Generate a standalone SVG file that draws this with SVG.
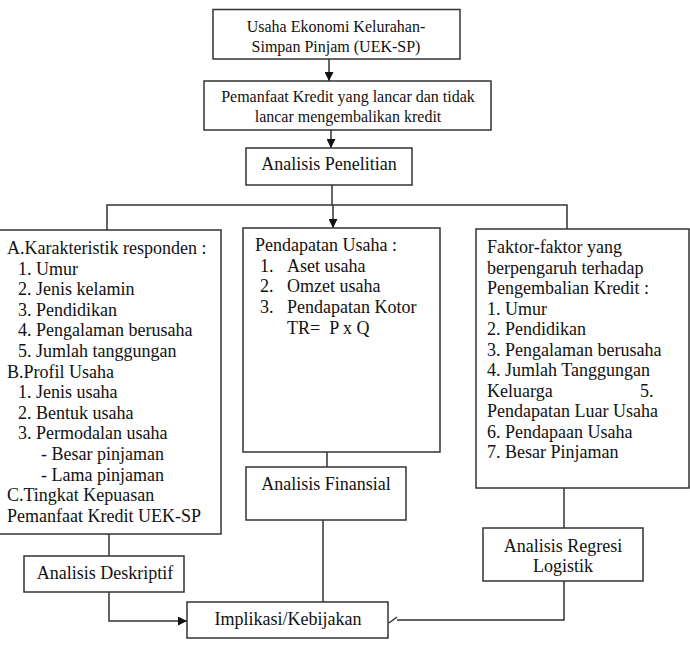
<svg xmlns="http://www.w3.org/2000/svg" width="690" height="652" viewBox="0 0 690 652">
  <style>
    .box { fill: #ffffff; stroke: #333333; stroke-width: 1.5; }
    .ln { fill: none; stroke: #333333; stroke-width: 1.5; }
    text { font-family: "Liberation Serif", "Times New Roman", serif; fill: #111111; }
    .s16 { font-size: 16px; }
    .s18 { font-size: 18px; }
    .mid { text-anchor: middle; }
  </style>
  <defs>
    <marker id="arrow" viewBox="0 0 10 10" refX="10" refY="5" markerWidth="9" markerHeight="9" markerUnits="userSpaceOnUse" orient="auto">
      <path d="M0,0 L10,5 L0,10 Z" fill="#111111"/>
    </marker>
  </defs>

  <rect width="690" height="652" fill="#ffffff"/>

  <!-- connectors -->
  <g id="connectors">
    <line class="ln" x1="329" y1="59" x2="329" y2="81" marker-end="url(#arrow)"/>
    <line class="ln" x1="331" y1="130" x2="331" y2="148" marker-end="url(#arrow)"/>
    <polyline class="ln" points="332,185 332,205"/>
    <polyline class="ln" points="107,230 107,205 567,205 567,229"/>
    <line class="ln" x1="333" y1="205" x2="333" y2="228" marker-end="url(#arrow)"/>
    <line class="ln" x1="109" y1="534" x2="109" y2="556"/>
    <line class="ln" x1="327" y1="452" x2="327" y2="467"/>
    <line class="ln" x1="564" y1="488" x2="564" y2="528"/>
    <polyline class="ln" points="109,592 109,621 187,621" marker-end="url(#arrow)"/>
    <line class="ln" x1="323" y1="520" x2="323" y2="602"/>
    <polyline class="ln" points="564,581 564,620 397,620"/>
    <line class="ln" x1="389" y1="623" x2="397" y2="617"/>
  </g>

  <g id="node-uek">
    <rect class="box" x="213" y="9.5" width="247" height="49.5"/>
    <text class="s16 mid" x="336" y="32">Usaha Ekonomi Kelurahan-</text>
    <text class="s16 mid" x="336" y="52">Simpan Pinjam (UEK-SP)</text>
  </g>

  <g id="node-pemanfaat">
    <rect class="box" x="204" y="81" width="287" height="49"/>
    <text class="s16 mid" x="348" y="102">Pemanfaat Kredit yang lancar dan tidak</text>
    <text class="s16 mid" x="348" y="122">lancar mengembalikan kredit</text>
  </g>

  <g id="node-analisis-penelitian">
    <rect class="box" x="246" y="148" width="166" height="37"/>
    <text class="s18 mid" x="329" y="170">Analisis Penelitian</text>
  </g>

  <g id="node-karakteristik">
    <rect class="box" x="-1" y="230" width="222" height="304"/>
    <text class="s18" xml:space="preserve">
      <tspan x="7" y="254">A.Karakteristik responden :</tspan>
      <tspan x="18" y="274.6">1. Umur</tspan>
      <tspan x="18" y="295.2">2. Jenis kelamin</tspan>
      <tspan x="18" y="315.8">3. Pendidikan</tspan>
      <tspan x="18" y="336.4">4. Pengalaman berusaha</tspan>
      <tspan x="18" y="357">5. Jumlah tanggungan</tspan>
      <tspan x="7" y="377.6">B.Profil Usaha</tspan>
      <tspan x="18" y="398.2">1. Jenis usaha</tspan>
      <tspan x="18" y="418.8">2. Bentuk usaha</tspan>
      <tspan x="18" y="439.4">3. Permodalan usaha</tspan>
      <tspan x="41" y="460">- Besar pinjaman</tspan>
      <tspan x="41" y="480.6">- Lama pinjaman</tspan>
      <tspan x="7" y="501.2">C.Tingkat Kepuasan</tspan>
      <tspan x="7" y="521.8">Pemanfaat Kredit UEK-SP</tspan>
    </text>
  </g>

  <g id="node-pendapatan">
    <rect class="box" x="243" y="228" width="197" height="224"/>
    <text class="s18">
      <tspan x="255" y="251">Pendapatan Usaha :</tspan>
      <tspan x="260" y="271.7">1.</tspan><tspan x="287" y="271.7">Aset usaha</tspan>
      <tspan x="260" y="292.4">2.</tspan><tspan x="287" y="292.4">Omzet usaha</tspan>
      <tspan x="260" y="313.1">3.</tspan><tspan x="287" y="313.1">Pendapatan Kotor</tspan>
      <tspan x="287" y="333.8" xml:space="preserve">TR=  P x Q</tspan>
    </text>
  </g>

  <g id="node-faktor">
    <rect class="box" x="476" y="229" width="213" height="259"/>
    <text class="s18">
      <tspan x="487" y="253">Faktor-faktor yang</tspan>
      <tspan x="487" y="273.5">berpengaruh terhadap</tspan>
      <tspan x="487" y="294">Pengembalian Kredit :</tspan>
      <tspan x="487" y="314.5">1. Umur</tspan>
      <tspan x="487" y="335">2. Pendidikan</tspan>
      <tspan x="487" y="355.5">3. Pengalaman berusaha</tspan>
      <tspan x="487" y="376">4. Jumlah Tanggungan</tspan>
      <tspan x="487" y="396.5">Keluarga</tspan><tspan x="640" y="396.5">5.</tspan>
      <tspan x="487" y="417">Pendapatan Luar Usaha</tspan>
      <tspan x="487" y="437.5">6. Pendapaan Usaha</tspan>
      <tspan x="487" y="458">7. Besar Pinjaman</tspan>
    </text>
  </g>

  <g id="node-finansial">
    <rect class="box" x="246" y="467" width="160" height="53"/>
    <text class="s18 mid" x="326" y="490">Analisis Finansial</text>
  </g>

  <g id="node-regresi">
    <rect class="box" x="483" y="528" width="160" height="53"/>
    <text class="s18 mid" x="563" y="552">Analisis Regresi</text>
    <text class="s18 mid" x="563" y="572">Logistik</text>
  </g>

  <g id="node-deskriptif">
    <rect class="box" x="24" y="556" width="160" height="36"/>
    <text class="s18 mid" x="105" y="579">Analisis Deskriptif</text>
  </g>

  <g id="node-implikasi">
    <rect class="box" x="187" y="602" width="201" height="36"/>
    <text class="s18 mid" x="288" y="625">Implikasi/Kebijakan</text>
  </g>
</svg>
